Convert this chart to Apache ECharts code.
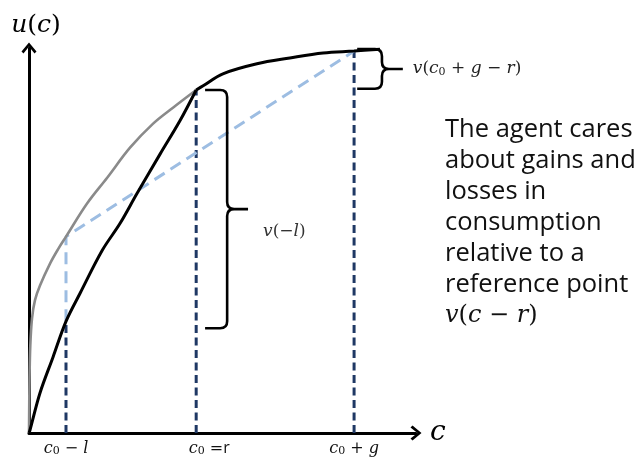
<!DOCTYPE html>
<html>
<head>
<meta charset="utf-8">
<script src="https://cdn.jsdelivr.net/npm/echarts@6/dist/echarts.min.js"></script>
<style>
  html, body { margin: 0; padding: 0; background: #ffffff; }
  #chart { width: 642px; height: 459px; }
</style>
</head>
<body>
<div id="chart"></div>
<script>
// Consumption levels on a 0–100 scale
const cLoss = 9.56;   // c0 − l
const cRef = 43.2;    // c0 = r
const cGain = 84.0;   // c0 + g

// Tick positions and their labels on the consumption axis
const tickValues = [cLoss, cRef, cGain];
const tickLabels = [
  '{i|c}{s|0}{o| − }{i|l}',
  '{ip|c}{s|0}{o| =}{r|r}',
  '{i|c}{s|0}{o| + }{i|g}'
];

// Reference-dependent value curve: loss side (0 → r) and gain side (r → end)
const blackLossX = [0, 0.26, 2.84, 6.2, 9.56, 13.2, 18.9, 23.5, 27.9, 33.9, 39.0, 43.2];
const blackLossY = [0, 0.78, 10.4, 19.7, 29.0, 36.3, 47.4, 54.4, 62.2, 72.5, 81.1, 89.1];
const blackGainX = [43.2, 45.0, 50.1, 58.9, 67.4, 76.0, 84.0, 90.7];
const blackGainY = [89.1, 90.2, 93.3, 95.9, 97.4, 98.7, 99.2, 99.7];

// Standard concave utility u(c) up to the reference point
const grayX = [0, 0.13, 0.34, 0.78, 1.55, 2.84, 5.43, 7.49, 9.56, 15.0, 20.2, 26.1, 32.0, 37.2, 43.2];
const grayY = [0, 13.7, 22.8, 29.8, 34.5, 38.3, 44.0, 47.7, 51.0, 59.6, 66.3, 74.1, 80.3, 84.5, 89.1];

// Utility levels at the marked consumption points
const uLossValue = 29.0;   // value curve at c0 − l
const uLossGray = 51.0;    // concave utility at c0 − l
const uRef = 89.1;         // at c0 = r
const uGain = 99.2;        // at c0 + g

// Braces: hook x, spine x, tip x, top y, bottom y
const braceHookX = [45.5, 84.8];
const braceSpineX = [51.2, 91.2];
const braceTipX = [56.6, 96.6];
const braceTopY = [uRef, 99.7];
const braceBottomY = [27.2, 89.4];
const braceLabels = [
  '{mi|v}{mu|(−}{mi|l}{mu|)}',
  '{mi|v}{mu|(}{mi|c}{sub|0}{mu| + }{mi|g}{mu| − }{mi|r}{mu|)}'
];

// Side note
const noteLines = ['The agent cares', 'about gains and', 'losses in', 'consumption', 'relative to a', 'reference point'];
const noteFormula = '{mi|v}{mu|(}{mi|c}{mu| − }{mi|r}{mu|)}';

const zip = (xs, ys) => xs.map((x, i) => [x, ys[i]]);

const mathFont = 'DejaVu Serif';
const chart = echarts.init(document.getElementById('chart'), null, { renderer: 'canvas' });

const arrowPath = 'path://M0 9 L7.5 0 L15 9 L13 11 L7.5 4 L2 11 Z';

const braceData = braceHookX.map((h, i) => [h, braceSpineX[i], braceTipX[i], braceTopY[i], braceBottomY[i], i]);

function renderBrace(params, api) {
  const idx = api.value(5);
  const top = api.coord([api.value(1), api.value(3)]);
  const bot = api.coord([api.value(1), api.value(4)]);
  const x0 = api.coord([api.value(0), 0])[0];
  const xt = api.coord([api.value(2), 0])[0];
  const xv = top[0];
  const y0 = top[1];
  const y1 = bot[1];
  const ym = (y0 + y1) / 2;
  const r = Math.min(7, (y1 - y0) / 4);
  const d = 'M' + x0 + ' ' + y0 + ' L' + (xv - r) + ' ' + y0 +
    ' Q' + xv + ' ' + y0 + ' ' + xv + ' ' + (y0 + r) +
    ' L' + xv + ' ' + (ym - r) +
    ' Q' + xv + ' ' + ym + ' ' + (xv + r) + ' ' + ym +
    ' L' + xt + ' ' + ym +
    ' M' + (xv + r) + ' ' + ym +
    ' Q' + xv + ' ' + ym + ' ' + xv + ' ' + (ym + r) +
    ' L' + xv + ' ' + (y1 - r) +
    ' Q' + xv + ' ' + y1 + ' ' + (xv - r) + ' ' + y1 +
    ' L' + x0 + ' ' + y1;
  const lossBrace = idx === 0;
  const ink = lossBrace ? '#333' : '#222';
  return {
    type: 'group',
    children: [
      {
        type: 'path',
        shape: { pathData: d },
        style: { stroke: '#000', lineWidth: 2.6, fill: null, lineJoin: 'round' }
      },
      {
        type: 'text',
        style: {
          text: braceLabels[idx],
          x: xt + (lossBrace ? 15 : 10),
          y: ym + (lossBrace ? 22 : 0),
          verticalAlign: 'middle',
          align: 'left',
          fill: ink,
          rich: {
            mi: { fontFamily: mathFont, fontStyle: 'italic', fontSize: 17, fill: ink },
            mu: { fontFamily: mathFont, fontSize: 17, fill: ink },
            sub: { fontFamily: mathFont, fontSize: 11, verticalAlign: 'bottom', padding: [7, 0, 0, 0], fill: ink }
          }
        }
      }
    ]
  };
}

const navyStyle = { color: '#1f3864', width: 3, type: [8, 4.5] };
const paleStyle = { color: '#9dbde2', width: 3, type: [12, 7] };

const option = {
  animation: false,
  backgroundColor: '#ffffff',
  grid: { left: 29, right: 226, top: 48, bottom: 26, outerBoundsMode: 'none', containLabel: false },
  xAxis: {
    type: 'value', min: 0, max: 100,
    name: '{n|c}', nameLocation: 'end', nameGap: 14,
    nameTextStyle: { rich: { n: { fontFamily: mathFont, fontStyle: 'italic', fontSize: 28, color: '#000' } } },
    axisLine: { show: true, onZero: false, symbol: ['none', arrowPath], symbolSize: [15, 11], lineStyle: { color: '#000', width: 3 } },
    axisTick: { show: false },
    splitLine: { show: false },
    axisLabel: {
      show: true,
      customValues: tickValues,
      margin: 7,
      formatter: function (v) {
        let best = 0;
        tickValues.forEach((t, i) => { if (Math.abs(t - v) < Math.abs(tickValues[best] - v)) best = i; });
        return tickLabels[best];
      },
      rich: {
        i: { fontFamily: mathFont, fontStyle: 'italic', fontSize: 16, color: '#111' },
        ip: { fontFamily: mathFont, fontStyle: 'italic', fontSize: 16, color: '#111', padding: [0, 0, 0, 26] },
        s: { fontFamily: mathFont, fontSize: 11, color: '#111', verticalAlign: 'bottom', padding: [6, 0, 0, 0] },
        o: { fontFamily: mathFont, fontSize: 16, color: '#111' },
        r: { fontFamily: 'Open Sans', fontSize: 16, color: '#111' }
      }
    }
  },
  yAxis: {
    type: 'value', min: 0, max: 100,
    name: '{i|u}{u|(}{i|c}{u|)}', nameLocation: 'end', nameGap: 10,
    nameTextStyle: {
      padding: [0, 0, 0, 14],
      rich: {
        i: { fontFamily: mathFont, fontStyle: 'italic', fontSize: 25, color: '#000' },
        u: { fontFamily: mathFont, fontSize: 25, color: '#000' }
      }
    },
    axisLine: { show: true, onZero: false, symbol: ['none', arrowPath], symbolSize: [15, 11], lineStyle: { color: '#000', width: 3 } },
    axisTick: { show: false },
    axisLabel: { show: false },
    splitLine: { show: false }
  },
  series: [
    // Dark dashed guides from the axis up to the value curve
    { type: 'line', data: [[cLoss, 0], [cLoss, uLossValue]], lineStyle: navyStyle, symbol: 'none', silent: true, z: 2 },
    { type: 'line', data: [[cRef, 0], [cRef, uRef]], lineStyle: navyStyle, symbol: 'none', silent: true, z: 2 },
    { type: 'line', data: [[cGain, 0], [cGain, uGain]], lineStyle: navyStyle, symbol: 'none', silent: true, z: 2 },
    // Pale dashed chord of the concave utility
    { type: 'line', data: [[cLoss, uLossValue], [cLoss, uLossGray], [cGain, uGain]], lineStyle: paleStyle, symbol: 'none', silent: true, z: 2 },
    // Concave utility
    { type: 'line', data: zip(grayX, grayY), smooth: 0.35, symbol: 'none', silent: true, z: 3,
      lineStyle: { color: '#8a8a8a', width: 2.6 } },
    // Value curve, loss and gain sides
    { type: 'line', data: zip(blackLossX, blackLossY), smooth: 0.35, symbol: 'none', silent: true, z: 4,
      lineStyle: { color: '#000', width: 3 } },
    { type: 'line', data: zip(blackGainX, blackGainY), smooth: 0.35, symbol: 'none', silent: true, z: 4,
      lineStyle: { color: '#000', width: 3 } },
    // Braces with their labels
    { type: 'custom', data: braceData, renderItem: renderBrace, clip: false, silent: true, z: 5,
      encode: { x: [0, 1, 2], y: [3, 4] } }
  ],
  graphic: [
    {
      type: 'text', left: 445, top: 114, silent: true,
      style: {
        text: noteLines.join('\n') + '\n' + noteFormula,
        fontFamily: 'Open Sans', fontSize: 25.5, lineHeight: 31, fill: '#111',
        rich: {
          mi: { fontFamily: mathFont, fontStyle: 'italic', fontSize: 24, lineHeight: 31, fill: '#111' },
          mu: { fontFamily: mathFont, fontSize: 24, lineHeight: 31, fill: '#111' }
        }
      }
    }
  ]
};

chart.setOption(option);
</script>
</body>
</html>
